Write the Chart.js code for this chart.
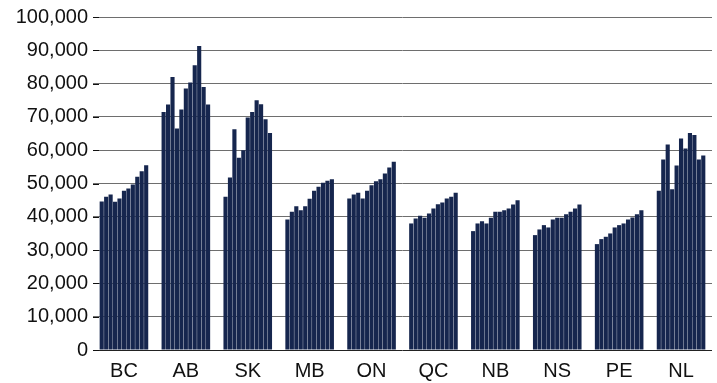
<!DOCTYPE html>
<html>
<head>
<meta charset="utf-8">
<script src="https://cdn.jsdelivr.net/npm/chart.js@4/dist/chart.umd.min.js"></script>
<style>
  html, body { margin: 0; padding: 0; background: #ffffff; }
  #wrap { width: 717px; height: 383px; position: relative; }
</style>
</head>
<body>
<div id="wrap"><canvas id="c" width="717" height="383"></canvas></div>
<script>
// Categories (provinces)
const provinces = ['BC', 'AB', 'SK', 'MB', 'ON', 'QC', 'NB', 'NS', 'PE', 'NL'];

// Values per province, 11 consecutive periods each
const BC = [44600, 46000, 46700, 44500, 45500, 47800, 48500, 49700, 52000, 53700, 55500];
const AB = [71500, 73700, 82000, 66500, 72200, 78500, 80300, 85500, 91300, 79000, 73700];
const SK = [46000, 51800, 66300, 57700, 60000, 69800, 71500, 75000, 73800, 69300, 65200];
const MB = [39200, 41500, 43200, 42000, 43200, 45400, 47800, 49000, 50200, 50800, 51300];
const ON = [45500, 46700, 47200, 45500, 47800, 49500, 50700, 51300, 53000, 54800, 56500];
const QC = [38000, 39500, 40300, 39700, 41000, 42500, 43800, 44300, 45500, 46000, 47200];
const NB = [35700, 38000, 38700, 38000, 39700, 41500, 41500, 42000, 42500, 43700, 45000];
const NS = [34500, 36200, 37500, 36800, 39200, 39700, 39700, 40800, 41500, 42500, 43700];
const PE = [31800, 33300, 34000, 35000, 36800, 37500, 38000, 39200, 39800, 40800, 42000];
const NL = [47800, 57200, 61700, 48300, 55400, 63500, 60500, 65200, 64600, 57200, 58400];

// Y-axis tick labels
const yTicks = [0, 10000, 20000, 30000, 40000, 50000, 60000, 70000, 80000, 90000, 100000];

const byProvince = [BC, AB, SK, MB, ON, QC, NB, NS, PE, NL];
const nPeriods = BC.length;
const BAR = '#16264e';

const datasets = [];
for (let p = 0; p < nPeriods; p++) {
  datasets.push({
    label: 'Period ' + (p + 1),
    data: byProvince.map(arr => arr[p]),
    backgroundColor: BAR,
    borderWidth: 0,
    barPercentage: 0.93,
    categoryPercentage: 0.79
  });
}

const tickMarks = {
  id: 'tickMarks',
  afterDatasetsDraw(chart) {
    const ctx = chart.ctx;
    const y = chart.scales.y;
    const left = chart.chartArea.left;
    ctx.save();
    ctx.strokeStyle = '#111';
    ctx.lineWidth = 1;
    y.ticks.forEach((t, i) => {
      const py = Math.round(y.getPixelForTick(i)) + 0.5;
      ctx.beginPath();
      ctx.moveTo(left, py);
      ctx.lineTo(left + 6, py);
      ctx.stroke();
    });
    ctx.restore();
  }
};

new Chart(document.getElementById('c'), {
  type: 'bar',
  data: { labels: provinces, datasets },
  options: {
    responsive: false,
    animation: false,
    devicePixelRatio: 1,
    layout: { padding: { top: 17, right: 5, left: 0, bottom: 0 } },
    plugins: { legend: { display: false }, tooltip: { enabled: false } },
    scales: {
      x: {
        grid: { display: false, drawTicks: false },
        border: { display: false },
        ticks: { color: '#111', font: { family: 'Liberation Sans', size: 20 }, padding: 9, maxRotation: 0 },
        afterFit(scale) { scale.height = 33; }
      },
      y: {
        min: 0, max: 100000,
        afterBuildTicks(scale) { scale.ticks = yTicks.map(v => ({ value: v })); },
        grid: {
          drawTicks: false,
          color: ctx => (ctx.tick && ctx.tick.value === 0) ? '#222' : '#6e6e6e',
          lineWidth: 1
        },
        border: { display: false },
        ticks: {
          color: '#111',
          font: { family: 'Liberation Sans', size: 20 },
          padding: 5,
          callback: v => v.toLocaleString('en-US')
        },
        afterFit(scale) { scale.width = 93; }
      }
    }
  },
  plugins: [tickMarks]
});
</script>
</body>
</html>
